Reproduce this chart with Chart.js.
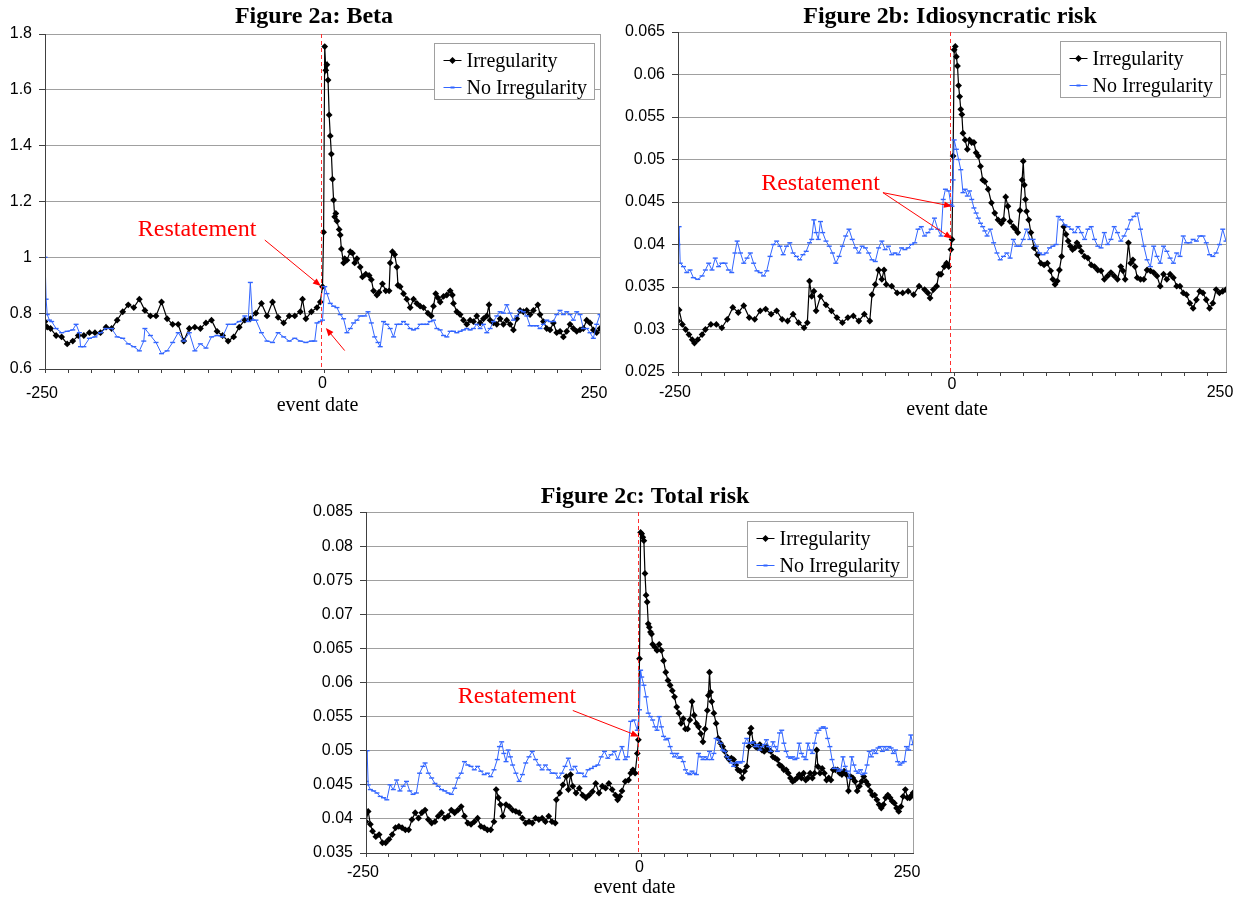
<!DOCTYPE html>
<html>
<head>
<meta charset="utf-8">
<script src="https://cdn.jsdelivr.net/npm/chart.js@4.4.1/dist/chart.umd.min.js"></script>
<style>
  body { margin: 0; background: #fff; width: 1244px; height: 898px; position: relative; overflow: hidden; }
  .box { position: absolute; }
</style>
</head>
<body>
<div class="box" style="left:0;top:0;width:622px;height:420px"><canvas id="chartA"></canvas></div>
<div class="box" style="left:620px;top:0;width:624px;height:420px"><canvas id="chartB"></canvas></div>
<div class="box" style="left:300px;top:480px;width:640px;height:418px"><canvas id="chartC"></canvas></div>
<script>
// x = event date, y = value
const xLabels = [-250, 0, 250];
const seriesNames = ["Irregularity", "No Irregularity"];

const betaIrr = [[-250,0.77],[-248,0.75],[-245,0.745],[-240,0.72],[-235,0.715],[-230,0.69],[-225,0.70],[-220,0.72],[-215,0.72],[-210,0.73],[-205,0.73],[-200,0.73],[-195,0.75],[-190,0.745],[-185,0.775],[-180,0.805],[-175,0.83],[-170,0.82],[-165,0.85],[-160,0.81],[-155,0.79],[-150,0.79],[-145,0.84],[-140,0.78],[-135,0.76],[-130,0.76],[-125,0.70],[-120,0.745],[-115,0.75],[-110,0.745],[-105,0.765],[-100,0.775],[-95,0.735],[-90,0.72],[-85,0.70],[-80,0.715],[-75,0.75],[-70,0.775],[-65,0.78],[-60,0.80],[-55,0.835],[-50,0.79],[-45,0.84],[-40,0.785],[-35,0.765],[-30,0.79],[-25,0.79],[-20,0.805],[-18,0.85],[-15,0.78],[-10,0.805],[-5,0.82],[-2,0.84],[0,0.895],[1,1.09],[2,1.755],[3,1.67],[4,1.69],[5,1.635],[6,1.51],[7,1.435],[8,1.37],[9,1.28],[10,1.205],[11,1.145],[12,1.157],[13,1.13],[15,1.10],[16,1.08],[17,1.03],[19,0.98],[20,0.995],[22,0.99],[25,1.02],[27,1.015],[29,0.98],[31,0.995],[34,0.965],[36,0.93],[39,0.94],[42,0.935],[44,0.92],[46,0.88],[49,0.865],[51,0.875],[54,0.905],[57,0.88],[60,0.88],[61,0.98],[63,1.02],[65,1.01],[67,0.965],[68,0.90],[70,0.895],[73,0.87],[76,0.85],[79,0.82],[82,0.85],[85,0.835],[88,0.825],[91,0.82],[95,0.80],[98,0.79],[100,0.825],[102,0.87],[104,0.855],[106,0.84],[109,0.86],[112,0.865],[115,0.88],[117,0.865],[118,0.835],[121,0.805],[124,0.795],[127,0.775],[130,0.76],[133,0.775],[136,0.77],[139,0.79],[142,0.765],[145,0.78],[148,0.79],[150,0.83],[151,0.775],[154,0.765],[157,0.76],[160,0.78],[163,0.76],[166,0.775],[169,0.76],[172,0.74],[175,0.78],[178,0.81],[181,0.805],[184,0.81],[187,0.795],[190,0.81],[194,0.83],[196,0.795],[199,0.77],[202,0.745],[205,0.74],[208,0.765],[211,0.73],[214,0.735],[217,0.715],[220,0.735],[223,0.76],[226,0.745],[229,0.735],[232,0.74],[235,0.745],[238,0.775],[241,0.765],[244,0.74],[247,0.73],[250,0.745]];
const betaNoIrr = [[-250,1.0],[-249,0.85],[-248,0.795],[-246,0.775],[-244,0.77],[-240,0.745],[-235,0.73],[-230,0.735],[-225,0.74],[-222,0.76],[-219,0.73],[-218,0.68],[-215,0.68],[-210,0.71],[-205,0.715],[-200,0.73],[-195,0.745],[-190,0.745],[-185,0.715],[-180,0.71],[-175,0.69],[-170,0.68],[-165,0.665],[-161,0.70],[-160,0.745],[-155,0.72],[-150,0.695],[-145,0.655],[-140,0.665],[-135,0.695],[-130,0.73],[-125,0.70],[-120,0.73],[-115,0.665],[-110,0.69],[-105,0.675],[-100,0.715],[-95,0.72],[-90,0.715],[-85,0.76],[-80,0.76],[-75,0.77],[-70,0.79],[-67,0.77],[-65,0.91],[-63,0.775],[-60,0.775],[-55,0.73],[-50,0.70],[-45,0.695],[-40,0.73],[-35,0.715],[-30,0.70],[-25,0.71],[-20,0.70],[-15,0.695],[-10,0.70],[-7,0.70],[-5,0.765],[-2,0.77],[0,0.775],[2,0.895],[4,0.87],[7,0.835],[10,0.825],[13,0.82],[16,0.795],[19,0.78],[22,0.73],[25,0.745],[28,0.765],[31,0.775],[34,0.79],[38,0.79],[41,0.805],[44,0.765],[47,0.715],[50,0.695],[52,0.68],[55,0.77],[58,0.76],[61,0.745],[64,0.715],[67,0.76],[70,0.76],[73,0.77],[76,0.76],[79,0.745],[82,0.74],[85,0.745],[88,0.76],[91,0.76],[94,0.76],[97,0.77],[100,0.775],[103,0.745],[106,0.74],[109,0.72],[112,0.715],[115,0.735],[118,0.735],[121,0.73],[124,0.735],[127,0.74],[130,0.745],[133,0.74],[136,0.745],[139,0.76],[142,0.745],[145,0.76],[148,0.73],[151,0.745],[154,0.77],[157,0.79],[160,0.805],[163,0.80],[166,0.83],[169,0.80],[172,0.775],[175,0.79],[178,0.81],[181,0.805],[184,0.79],[187,0.755],[190,0.755],[193,0.755],[196,0.745],[199,0.76],[202,0.775],[205,0.77],[208,0.77],[211,0.795],[214,0.81],[217,0.795],[220,0.805],[223,0.795],[226,0.775],[229,0.805],[232,0.795],[235,0.745],[238,0.745],[241,0.73],[244,0.71],[247,0.76],[250,0.795]];

const idioIrr = [[-250,0.031],[-249,0.0323],[-246,0.0306],[-243,0.030],[-240,0.0294],[-237,0.0288],[-235,0.0284],[-232,0.0288],[-228,0.0294],[-225,0.030],[-220,0.0306],[-215,0.0306],[-210,0.0302],[-205,0.0312],[-200,0.0326],[-195,0.032],[-190,0.0328],[-185,0.0314],[-180,0.0312],[-175,0.0322],[-170,0.0324],[-165,0.0318],[-160,0.0322],[-155,0.0312],[-150,0.031],[-145,0.0318],[-140,0.0308],[-135,0.0302],[-132,0.0308],[-130,0.0357],[-128,0.0339],[-126,0.0345],[-124,0.0322],[-120,0.0339],[-115,0.0329],[-110,0.0322],[-105,0.0314],[-100,0.0308],[-95,0.0314],[-90,0.0316],[-85,0.031],[-80,0.0318],[-75,0.031],[-73,0.0341],[-70,0.0353],[-67,0.037],[-64,0.0359],[-62,0.037],[-60,0.0353],[-55,0.0351],[-50,0.0343],[-45,0.0343],[-40,0.0345],[-35,0.0341],[-30,0.0351],[-25,0.0347],[-22,0.0343],[-20,0.0337],[-17,0.0347],[-14,0.0351],[-12,0.0365],[-10,0.0365],[-7,0.0374],[-5,0.0378],[-3,0.0374],[-1,0.0394],[0,0.0406],[1,0.0504],[2,0.0629],[3,0.0633],[4,0.0621],[5,0.061],[6,0.0587],[7,0.0574],[8,0.0559],[9,0.0553],[10,0.0531],[12,0.0523],[14,0.0512],[16,0.0523],[18,0.052],[20,0.052],[22,0.0508],[24,0.0504],[26,0.0492],[28,0.0476],[30,0.0474],[33,0.0465],[36,0.0449],[39,0.0437],[42,0.0429],[45,0.0425],[47,0.0429],[49,0.0456],[51,0.0445],[53,0.0427],[56,0.0421],[58,0.0418],[60,0.0414],[62,0.044],[64,0.0476],[65,0.0498],[66,0.047],[67,0.0453],[68,0.0439],[70,0.0429],[72,0.0414],[75,0.0396],[78,0.0388],[81,0.0378],[84,0.0376],[87,0.0378],[90,0.0369],[92,0.0359],[94,0.0353],[96,0.0357],[98,0.037],[100,0.0386],[102,0.0421],[104,0.0412],[106,0.0404],[108,0.0398],[110,0.0394],[112,0.0396],[114,0.0402],[116,0.0398],[118,0.0392],[121,0.0386],[124,0.0384],[127,0.0376],[130,0.0374],[133,0.037],[136,0.0369],[139,0.0359],[142,0.0363],[145,0.0367],[148,0.0363],[151,0.0359],[154,0.0374],[156,0.0369],[158,0.0359],[161,0.0402],[163,0.0378],[165,0.0382],[167,0.0374],[169,0.0361],[172,0.0359],[175,0.0359],[178,0.037],[181,0.0369],[184,0.0367],[187,0.0363],[190,0.0351],[193,0.0365],[196,0.0359],[199,0.0365],[202,0.0361],[205,0.0351],[208,0.0351],[211,0.0343],[214,0.0341],[217,0.0331],[220,0.0325],[223,0.0335],[226,0.0345],[229,0.0343],[232,0.0335],[235,0.0325],[238,0.0331],[241,0.0347],[244,0.0343],[247,0.0345],[250,0.0347]];
const idioNoIrr = [[-250,0.040],[-249,0.0421],[-248,0.0378],[-245,0.0374],[-242,0.0367],[-239,0.037],[-236,0.0361],[-232,0.0359],[-228,0.0363],[-225,0.037],[-222,0.0378],[-219,0.037],[-216,0.0384],[-213,0.0374],[-210,0.0378],[-207,0.0378],[-204,0.037],[-201,0.0367],[-198,0.039],[-196,0.0404],[-193,0.039],[-190,0.0378],[-187,0.0384],[-184,0.039],[-181,0.0378],[-178,0.0369],[-175,0.0367],[-172,0.0363],[-169,0.0369],[-166,0.0386],[-163,0.040],[-160,0.0404],[-157,0.0398],[-154,0.0388],[-151,0.0398],[-148,0.0402],[-145,0.039],[-142,0.0386],[-139,0.0382],[-136,0.0388],[-133,0.0392],[-130,0.0402],[-128,0.0406],[-126,0.0429],[-124,0.0414],[-122,0.0406],[-120,0.0427],[-118,0.0414],[-115,0.0404],[-112,0.0398],[-109,0.039],[-106,0.0378],[-103,0.0386],[-100,0.0398],[-97,0.041],[-94,0.0418],[-91,0.0406],[-88,0.0396],[-85,0.039],[-82,0.0398],[-79,0.0396],[-76,0.039],[-73,0.0382],[-70,0.038],[-67,0.0396],[-64,0.0404],[-61,0.0394],[-58,0.0398],[-55,0.0388],[-52,0.039],[-49,0.0388],[-46,0.0396],[-43,0.0394],[-40,0.0396],[-37,0.040],[-34,0.0402],[-31,0.0418],[-28,0.0421],[-25,0.041],[-22,0.0414],[-19,0.0418],[-16,0.0431],[-13,0.0418],[-10,0.041],[-8,0.0453],[-6,0.0465],[-3,0.0463],[-1,0.0447],[0,0.0445],[1,0.0476],[2,0.0523],[4,0.0512],[6,0.05],[8,0.0488],[10,0.0461],[12,0.0465],[14,0.0457],[16,0.0463],[18,0.0453],[20,0.0443],[22,0.0437],[24,0.0431],[26,0.0425],[28,0.0421],[30,0.0416],[32,0.041],[35,0.0418],[38,0.0402],[41,0.039],[44,0.0382],[47,0.0386],[50,0.039],[53,0.0384],[56,0.0406],[59,0.0398],[62,0.0398],[65,0.0406],[68,0.0418],[71,0.0406],[74,0.0406],[77,0.0398],[80,0.039],[83,0.0388],[86,0.039],[89,0.0396],[92,0.0398],[95,0.040],[97,0.0433],[100,0.0429],[103,0.0423],[106,0.0421],[109,0.0418],[112,0.0414],[115,0.0421],[118,0.0414],[121,0.0406],[124,0.0418],[127,0.0421],[130,0.0406],[133,0.0398],[136,0.0396],[139,0.0414],[142,0.040],[145,0.0406],[148,0.0421],[151,0.0414],[154,0.0404],[157,0.041],[160,0.0418],[163,0.0429],[166,0.0433],[169,0.0437],[172,0.0418],[175,0.0398],[178,0.0382],[181,0.0374],[184,0.0398],[187,0.0386],[190,0.0378],[193,0.0398],[196,0.0392],[199,0.0384],[202,0.0378],[205,0.039],[208,0.0386],[211,0.041],[214,0.0402],[217,0.0402],[220,0.0406],[223,0.0404],[226,0.041],[229,0.041],[232,0.0402],[235,0.0388],[238,0.0386],[241,0.039],[244,0.040],[247,0.0418],[250,0.0404]];

const totalIrr = [[-250,0.0396],[-248,0.0411],[-246,0.0392],[-244,0.0382],[-241,0.0374],[-238,0.0377],[-235,0.0365],[-232,0.0365],[-229,0.037],[-226,0.0377],[-223,0.0387],[-220,0.0389],[-217,0.0387],[-214,0.0384],[-211,0.0384],[-208,0.0399],[-205,0.0409],[-202,0.0401],[-199,0.0409],[-196,0.0413],[-193,0.0399],[-190,0.0394],[-187,0.0396],[-184,0.0404],[-181,0.0409],[-178,0.0401],[-175,0.0404],[-172,0.0413],[-169,0.0409],[-166,0.0413],[-163,0.0418],[-160,0.0404],[-157,0.0394],[-154,0.0392],[-151,0.0396],[-148,0.0401],[-145,0.0389],[-142,0.0387],[-139,0.0384],[-136,0.0384],[-133,0.0396],[-131,0.0443],[-129,0.0431],[-127,0.0421],[-125,0.0404],[-122,0.0421],[-119,0.0418],[-116,0.0413],[-113,0.0411],[-110,0.0409],[-107,0.0401],[-104,0.0394],[-101,0.0396],[-98,0.0394],[-95,0.0401],[-92,0.0399],[-89,0.0401],[-86,0.0396],[-83,0.0404],[-80,0.0396],[-77,0.0394],[-76,0.0428],[-73,0.0438],[-70,0.045],[-67,0.0462],[-65,0.0443],[-63,0.0465],[-61,0.0448],[-58,0.0438],[-55,0.0445],[-52,0.0435],[-49,0.0431],[-46,0.0435],[-43,0.044],[-40,0.0452],[-37,0.0438],[-34,0.0448],[-31,0.0445],[-28,0.0452],[-25,0.0443],[-22,0.0435],[-20,0.0428],[-18,0.0433],[-16,0.0441],[-13,0.0455],[-10,0.0457],[-8,0.0467],[-6,0.0472],[-4,0.0467],[-2,0.0496],[-1,0.0516],[0,0.0635],[1,0.082],[2,0.0818],[3,0.0813],[4,0.0808],[5,0.076],[6,0.0728],[7,0.0718],[8,0.0686],[9,0.0681],[10,0.0674],[11,0.0671],[12,0.0656],[14,0.0652],[16,0.0647],[18,0.0656],[20,0.0647],[22,0.0632],[24,0.0615],[26,0.0603],[28,0.0596],[30,0.0588],[32,0.0579],[34,0.0564],[36,0.0555],[38,0.054],[40,0.0547],[42,0.0532],[44,0.0532],[46,0.0545],[48,0.0572],[50,0.0552],[52,0.054],[54,0.0535],[56,0.0525],[58,0.0513],[60,0.0532],[62,0.0559],[63,0.0581],[64,0.0615],[65,0.0586],[66,0.0572],[68,0.0555],[70,0.054],[72,0.0518],[74,0.0511],[76,0.0506],[78,0.0499],[80,0.0491],[82,0.0487],[84,0.0489],[86,0.0487],[88,0.0479],[90,0.0472],[92,0.047],[94,0.046],[96,0.047],[98,0.0477],[100,0.0506],[101,0.0526],[102,0.0533],[104,0.0511],[106,0.0506],[108,0.0504],[110,0.0509],[112,0.0501],[114,0.0499],[116,0.0506],[118,0.0501],[120,0.0499],[122,0.0491],[124,0.0489],[126,0.0487],[128,0.0479],[130,0.0477],[132,0.0472],[134,0.0472],[136,0.0467],[138,0.046],[140,0.0455],[142,0.0457],[144,0.046],[146,0.0465],[148,0.046],[150,0.0467],[152,0.0457],[154,0.046],[156,0.0467],[158,0.046],[160,0.0467],[162,0.0501],[163,0.0477],[165,0.0467],[167,0.0474],[169,0.0467],[171,0.0457],[173,0.046],[175,0.0457],[177,0.0472],[179,0.0472],[181,0.0472],[183,0.0467],[185,0.0465],[187,0.047],[189,0.0465],[191,0.0441],[193,0.0462],[195,0.046],[197,0.0455],[199,0.0441],[201,0.0448],[203,0.0455],[205,0.0462],[207,0.0455],[209,0.045],[211,0.0441],[213,0.0435],[215,0.0435],[217,0.0428],[219,0.0421],[221,0.0416],[223,0.0421],[225,0.0431],[227,0.0435],[229,0.0431],[231,0.0426],[233,0.0423],[235,0.0416],[237,0.0411],[239,0.0418],[241,0.0433],[243,0.0443],[245,0.0431],[247,0.0431],[249,0.0435],[250,0.0438]];
const totalNoIrr = [[-250,0.0455],[-249,0.050],[-248,0.045],[-246,0.0443],[-243,0.0441],[-240,0.0438],[-237,0.0433],[-234,0.0431],[-231,0.0428],[-228,0.045],[-225,0.0443],[-222,0.0457],[-219,0.0441],[-216,0.0448],[-213,0.0455],[-210,0.0441],[-207,0.0436],[-204,0.0438],[-201,0.0467],[-198,0.0477],[-196,0.0482],[-193,0.0467],[-190,0.046],[-187,0.0452],[-184,0.0448],[-181,0.0443],[-178,0.0441],[-175,0.0438],[-172,0.0436],[-169,0.0445],[-166,0.046],[-163,0.0467],[-160,0.0484],[-157,0.0479],[-154,0.0477],[-151,0.0472],[-148,0.0477],[-145,0.047],[-142,0.0465],[-139,0.0467],[-136,0.0462],[-133,0.0472],[-130,0.0487],[-128,0.0506],[-126,0.0513],[-124,0.0496],[-122,0.0484],[-120,0.0501],[-118,0.0491],[-116,0.0479],[-113,0.0467],[-110,0.0455],[-107,0.0465],[-104,0.0482],[-101,0.0491],[-98,0.0499],[-95,0.0487],[-92,0.0479],[-89,0.0472],[-86,0.0479],[-83,0.0472],[-80,0.0467],[-77,0.0467],[-74,0.046],[-71,0.0467],[-68,0.0477],[-65,0.0489],[-62,0.0472],[-59,0.0477],[-56,0.0467],[-53,0.0467],[-50,0.0462],[-47,0.0472],[-44,0.0474],[-41,0.0477],[-38,0.0479],[-35,0.0491],[-32,0.0499],[-29,0.0489],[-26,0.0494],[-23,0.0499],[-20,0.0487],[-16,0.0506],[-13,0.0487],[-11,0.0491],[-8,0.0543],[-5,0.0545],[-2,0.053],[0,0.056],[1,0.0618],[2,0.0608],[4,0.0596],[6,0.0579],[8,0.0555],[10,0.055],[12,0.0545],[14,0.0535],[16,0.053],[18,0.055],[20,0.0535],[22,0.0521],[24,0.0516],[26,0.0518],[28,0.0506],[30,0.0496],[32,0.0491],[34,0.0496],[36,0.0489],[38,0.0491],[40,0.0484],[42,0.0472],[44,0.0467],[46,0.0465],[48,0.047],[50,0.0467],[52,0.0465],[54,0.0496],[56,0.0491],[58,0.0487],[60,0.0491],[62,0.0487],[64,0.0499],[66,0.0487],[68,0.0496],[70,0.0518],[72,0.0516],[74,0.0511],[76,0.0501],[78,0.0499],[80,0.0491],[82,0.0487],[84,0.0482],[86,0.0477],[88,0.0482],[90,0.0484],[92,0.0482],[94,0.0484],[96,0.0511],[98,0.0518],[100,0.0511],[102,0.0511],[104,0.0513],[106,0.0506],[108,0.0509],[110,0.0501],[112,0.0506],[114,0.0509],[116,0.0516],[118,0.0506],[120,0.0499],[122,0.0513],[124,0.0506],[126,0.0499],[128,0.0526],[130,0.053],[132,0.0511],[134,0.0499],[136,0.0491],[138,0.0489],[140,0.0491],[142,0.0487],[144,0.0489],[146,0.0511],[148,0.0496],[150,0.0491],[152,0.0487],[154,0.0511],[156,0.0501],[158,0.0496],[160,0.0511],[162,0.0526],[164,0.053],[166,0.0533],[168,0.0535],[170,0.0533],[172,0.0518],[174,0.0506],[176,0.0487],[178,0.0474],[180,0.0474],[182,0.047],[184,0.0472],[186,0.0491],[188,0.0477],[190,0.047],[192,0.046],[194,0.0491],[196,0.0479],[198,0.047],[200,0.0467],[202,0.0472],[204,0.0465],[206,0.0467],[208,0.0479],[210,0.0499],[212,0.0491],[214,0.0501],[216,0.0496],[218,0.0504],[220,0.0506],[222,0.0499],[224,0.0506],[226,0.0501],[228,0.0506],[230,0.0504],[232,0.0496],[234,0.0501],[236,0.0484],[238,0.0479],[240,0.0482],[242,0.0484],[244,0.0506],[246,0.0501],[248,0.0523],[250,0.0509]];

const SERIF = '"Liberation Serif", "Times New Roman", serif';
const SANS = '"Liberation Sans", Arial, sans-serif';
const BLUE = "#3366ff";

// small tick marks every 21 days along the bottom axis, like the original
const xTickMarks = [];
for (let d = -250; d <= 250; d += 21) xTickMarks.push(d);

function drawArrow(ctx, x1, y1, x2, y2) {
  const ang = Math.atan2(y2 - y1, x2 - x1);
  const L = 8, W = 3.2;
  ctx.beginPath();
  ctx.moveTo(x1, y1);
  ctx.lineTo(x2 - Math.cos(ang) * L * 0.7, y2 - Math.sin(ang) * L * 0.7);
  ctx.stroke();
  ctx.beginPath();
  ctx.moveTo(x2, y2);
  ctx.lineTo(x2 - L * Math.cos(ang) + W * Math.sin(ang), y2 - L * Math.sin(ang) - W * Math.cos(ang));
  ctx.lineTo(x2 - L * Math.cos(ang) - W * Math.sin(ang), y2 - L * Math.sin(ang) + W * Math.cos(ang));
  ctx.closePath();
  ctx.fill();
}

const panelDecor = {
  id: "panelDecor",
  afterDatasetsDraw(chart, args, o) {
    const { ctx, chartArea: a, scales: { x } } = chart;
    ctx.save();
    // grey frame on the right
    ctx.strokeStyle = "#a0a0a0";
    ctx.lineWidth = 1;
    ctx.beginPath();
    ctx.moveTo(Math.round(a.right) + 0.5, a.top);
    ctx.lineTo(Math.round(a.right) + 0.5, a.bottom);
    ctx.stroke();
    // dashed line at the event date
    const x0 = Math.round(x.getPixelForValue(0)) - 1.5;
    ctx.strokeStyle = "#ff3030";
    ctx.setLineDash([4, 3]);
    ctx.beginPath();
    ctx.moveTo(x0, a.top);
    ctx.lineTo(x0, a.bottom);
    ctx.stroke();
    ctx.restore();
  },
  afterDraw(chart, args, o) {
    const { ctx, chartArea: a, scales: { x, y } } = chart;
    ctx.save();
    ctx.fillStyle = "#000";
    ctx.textAlign = "center";
    ctx.textBaseline = "middle";

    // title
    ctx.font = "bold 24px " + SERIF;
    ctx.fillText(o.title, o.titleX, 17);

    // x tick labels, the 0 sits a bit higher
    ctx.font = "16px " + SANS;
    xLabels.forEach(v => {
      let px = x.getPixelForValue(v);
      if (v === xLabels[0]) px -= 3;
      if (v === xLabels[2]) px -= 6;
      const drop = v === 0 ? o.zeroDrop : o.endDrop;
      ctx.fillText(String(v), px, a.bottom + drop);
    });

    // axis title
    ctx.font = "20px " + SERIF;
    ctx.fillText("event date", (a.left + a.right) / 2 - 5, a.bottom + o.titleDrop);

    // legend box
    const bw = 160, bh = 56;
    const bx = Math.round(a.right - 6 - bw) + 0.5, by = Math.round(a.top + 9) + 0.5;
    ctx.fillStyle = "#fff";
    ctx.fillRect(bx, by, bw, bh);
    ctx.strokeStyle = "#a0a0a0";
    ctx.lineWidth = 1;
    ctx.strokeRect(bx, by, bw, bh);
    const rows = [by + 17, by + 44];
    ctx.lineWidth = 1;
    // Irregularity
    ctx.strokeStyle = "#000";
    ctx.beginPath(); ctx.moveTo(bx + 9, rows[0]); ctx.lineTo(bx + 27, rows[0]); ctx.stroke();
    ctx.fillStyle = "#000";
    ctx.beginPath();
    ctx.moveTo(bx + 18, rows[0] - 3.5); ctx.lineTo(bx + 21.5, rows[0]);
    ctx.lineTo(bx + 18, rows[0] + 3.5); ctx.lineTo(bx + 14.5, rows[0]);
    ctx.closePath(); ctx.fill();
    // No Irregularity
    ctx.strokeStyle = BLUE;
    ctx.beginPath(); ctx.moveTo(bx + 9, rows[1]); ctx.lineTo(bx + 27, rows[1]); ctx.stroke();
    ctx.lineWidth = 2;
    ctx.beginPath(); ctx.moveTo(bx + 16, rows[1]); ctx.lineTo(bx + 20, rows[1]); ctx.stroke();
    ctx.fillStyle = "#000";
    ctx.textAlign = "left";
    ctx.font = "20px " + SERIF;
    ctx.fillText(seriesNames[0], bx + 32, rows[0] + 1);
    ctx.fillText(seriesNames[1], bx + 32, rows[1] + 1);

    // restatement note with arrows
    ctx.fillStyle = "#ff0000";
    ctx.strokeStyle = "#ff0000";
    ctx.lineWidth = 1;
    ctx.textAlign = "center";
    ctx.font = "24px " + SERIF;
    ctx.fillText("Restatement", x.getPixelForValue(o.note[0]), y.getPixelForValue(o.note[1]));
    o.arrows.forEach(ar => {
      drawArrow(ctx,
        x.getPixelForValue(ar[0][0]), y.getPixelForValue(ar[0][1]),
        x.getPixelForValue(ar[1][0]), y.getPixelForValue(ar[1][1]));
    });
    ctx.restore();
  }
};

function makePanel(id, cfg) {
  const toPts = arr => arr.map(p => ({ x: p[0], y: p[1] }));
  return new Chart(document.getElementById(id), {
    type: "line",
    data: {
      datasets: [
        {
          label: seriesNames[0],
          data: toPts(cfg.irr),
          borderColor: "#000",
          borderWidth: 1.2,
          pointStyle: "rectRot",
          pointRadius: 3.4,
          pointBackgroundColor: "#000",
          pointBorderColor: "#000",
          pointBorderWidth: 0,
          order: 1
        },
        {
          label: seriesNames[1],
          data: toPts(cfg.noIrr),
          borderColor: BLUE,
          borderWidth: 1,
          pointStyle: "line",
          pointRadius: 2.5,
          pointBorderColor: BLUE,
          pointBorderWidth: 1.4,
          order: 0
        }
      ]
    },
    options: {
      responsive: true,
      maintainAspectRatio: false,
      animation: false,
      devicePixelRatio: 1,
      layout: { padding: { top: cfg.padTop, right: cfg.padRight, left: 0, bottom: 0 } },
      plugins: {
        legend: { display: false },
        tooltip: { enabled: false },
        panelDecor: cfg.decor
      },
      scales: {
        x: {
          type: "linear",
          min: -250,
          max: 250,
          afterBuildTicks: s => { s.ticks = xTickMarks.map(v => ({ value: v })); },
          afterFit: s => { s.height = cfg.xAxisHeight; },
          ticks: { display: false },
          grid: { drawOnChartArea: false, tickLength: 4, color: "#404040" },
          border: { color: "#404040", width: 1, z: 1 }
        },
        y: {
          min: cfg.yMin,
          max: cfg.yMax,
          afterFit: s => { s.width = cfg.yAxisWidth; },
          ticks: {
            stepSize: cfg.yStep,
            color: "#000",
            padding: 7,
            font: { family: SANS, size: 16 },
            callback: v => String(parseFloat(Number(v).toFixed(4)))
          },
          grid: { color: "#a0a0a0", tickLength: 6, tickColor: "#404040" },
          border: { color: "#404040", width: 1, z: 1 }
        }
      }
    },
    plugins: [panelDecor]
  });
}

makePanel("chartA", {
  irr: betaIrr, noIrr: betaNoIrr,
  yMin: 0.6, yMax: 1.8, yStep: 0.2,
  yAxisWidth: 45, xAxisHeight: 51, padTop: 34, padRight: 22,
  decor: {
    title: "Figure 2a: Beta", titleX: 314,
    endDrop: 25, zeroDrop: 15, titleDrop: 37,
    note: [-113, 1.10],
    arrows: [[[-52, 1.062], [-1.5, 0.897]], [[20, 0.666], [3, 0.747]]]
  }
});

makePanel("chartB", {
  irr: idioIrr, noIrr: idioNoIrr,
  yMin: 0.025, yMax: 0.065, yStep: 0.005,
  yAxisWidth: 58, xAxisHeight: 48, padTop: 32, padRight: 18,
  decor: {
    title: "Figure 2b: Idiosyncratic risk", titleX: 330,
    endDrop: 21, zeroDrop: 13, titleDrop: 38,
    note: [-120, 0.04715],
    arrows: [[[-63, 0.0461], [0, 0.0445]], [[-63, 0.0461], [0, 0.0407]]]
  }
});

makePanel("chartC", {
  irr: totalIrr, noIrr: totalNoIrr,
  yMin: 0.035, yMax: 0.085, yStep: 0.005,
  yAxisWidth: 66, xAxisHeight: 45, padTop: 32, padRight: 27,
  decor: {
    title: "Figure 2c: Total risk", titleX: 345,
    endDrop: 20, zeroDrop: 15, titleDrop: 35,
    note: [-112, 0.0579],
    arrows: [[[-61, 0.0559], [-0.5, 0.0521]]]
  }
});
</script>
</body>
</html>
